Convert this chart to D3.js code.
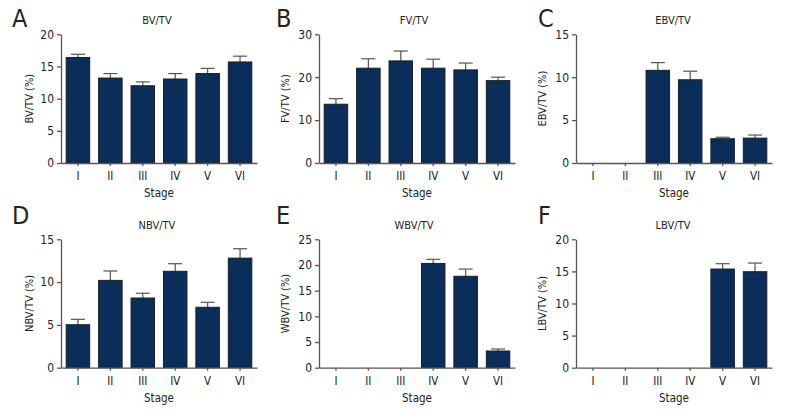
<!DOCTYPE html>
<html><head><meta charset="utf-8">
<script src="https://cdn.jsdelivr.net/npm/d3@7"></script>
<style>
body{margin:0;background:#fff;}
text{font-family:"Liberation Sans Narrow","DejaVu Sans Condensed","DejaVu Sans",sans-serif;font-stretch:condensed;fill:#222;}
</style></head>
<body><svg id="chart" width="792" height="420"></svg>
<script>
const categories = ["I","II","III","IV","V","VI"];
const panelLetters = ["A","B","C","D","E","F"];
const panelTitles = ["BV/TV","FV/TV","EBV/TV","NBV/TV","WBV/TV","LBV/TV"];
const yLabels = ["BV/TV (%)","FV/TV (%)","EBV/TV (%)","NBV/TV (%)","WBV/TV (%)","LBV/TV (%)"];
const yMax = [20,30,15,15,25,20];
const yTickStep = [5,10,5,5,5,5];
const bvMean = [16.4,13.2,12.0,13.05,13.9,15.7];
const bvErr  = [0.5,0.7,0.6,0.85,0.8,0.9];
const fvMean = [13.7,22.1,23.8,22.1,21.7,19.2];
const fvErr  = [1.3,2.2,2.3,2.1,1.6,0.8];
const ebvMean = [0,0,10.8,9.7,2.83,2.9];
const ebvErr  = [null,null,0.9,1.0,0.17,0.36];
const nbvMean = [5.02,10.2,8.14,11.26,7.06,12.8];
const nbvErr  = [0.63,1.1,0.56,0.89,0.58,1.1];
const wbvMean = [0,0,0,20.3,17.8,3.25];
const wbvErr  = [null,null,null,0.8,1.4,0.39];
const lbvMean = [0,0,0,0,15.37,14.95];
const lbvErr  = [null,null,null,null,0.83,1.35];

const means = [bvMean,fvMean,ebvMean,nbvMean,wbvMean,lbvMean];
const errs = [bvErr,fvErr,ebvErr,nbvErr,wbvErr,lbvErr];

const svg = d3.select("#chart");
const colX = [61,319,576];
const rowY = [{top:34.3,bottom:163,letterY:27},{top:239.3,bottom:367.7,letterY:224}];
const letterX = [12,276,538];
const titleX = [157,414,673];
const yLabX = [29,285,542];
const axisColor = "#555";
const barFill = "#0b2d5a";
const fontFam = '"Liberation Sans Narrow","DejaVu Sans Condensed","DejaVu Sans",sans-serif';

for (let p=0;p<6;p++){
  const col = p%3, row = Math.floor(p/3);
  const x0 = colX[col], x1 = x0+196;
  const top = rowY[row].top, bottom = rowY[row].bottom;
  const g = svg.append("g");
  const x = d3.scaleBand().domain(categories).range([x0,x1]).paddingInner(0.275).paddingOuter(0.16);
  const y = d3.scaleLinear().domain([0,yMax[p]]).range([bottom,top]);
  const data = categories.map((c,i)=>({c, v:means[p][i], e:errs[p][i]}));

  // error bars
  data.filter(d=>d.e!=null).forEach(d=>{
    const cx = x(d.c)+x.bandwidth()/2;
    g.append("line").attr("x1",cx).attr("x2",cx).attr("y1",y(d.v)).attr("y2",y(d.v+d.e))
      .attr("stroke","#555").attr("stroke-width",1.2);
    g.append("line").attr("x1",cx-7).attr("x2",cx+7).attr("y1",y(d.v+d.e)).attr("y2",y(d.v+d.e))
      .attr("stroke","#555").attr("stroke-width",1.2);
  });
  // bars
  g.selectAll("rect.bar").data(data.filter(d=>d.v>0)).join("rect")
    .attr("x",d=>x(d.c)).attr("width",x.bandwidth())
    .attr("y",d=>y(d.v)).attr("height",d=>bottom-y(d.v))
    .attr("fill",barFill).attr("stroke","#1e1e1e").attr("stroke-width",1);

  // axes
  const ticks = d3.range(0,yMax[p]+0.001,yTickStep[p]);
  const ya = g.append("g").attr("transform",`translate(${x0},0)`)
    .call(d3.axisLeft(y).tickValues(ticks).tickSize(4).tickSizeOuter(0).tickPadding(3).tickFormat(d3.format("d")));
  const xa = g.append("g").attr("transform",`translate(0,${bottom})`)
    .call(d3.axisBottom(x).tickSize(3).tickSizeOuter(0).tickPadding(6));
  [ya,xa].forEach(a=>{
    a.selectAll("path,line").attr("stroke",axisColor).attr("stroke-width",1.3);
    a.selectAll("text").attr("font-size",12).attr("fill","#222")
      .style("font-family",fontFam).style("font-stretch","condensed");
  });
  xa.selectAll("text").attr("font-size",11.5);

  g.append("text").attr("x",letterX[col]).attr("y",rowY[row].letterY)
    .attr("font-size",25).text(panelLetters[p]);
  g.append("text").attr("x",titleX[col]).attr("y",top-10).attr("text-anchor","middle")
    .attr("font-size",11).text(panelTitles[p]);
  g.append("text").attr("transform",`translate(${yLabX[col]},${(top+bottom)/2}) rotate(-90)`)
    .attr("text-anchor","middle").attr("dy","0.35em").attr("font-size",11).text(yLabels[p]);
  g.append("text").attr("x",(x0+x1)/2).attr("y",bottom+34).attr("text-anchor","middle")
    .attr("font-size",11.5).text("Stage");
}
</script></body></html>
